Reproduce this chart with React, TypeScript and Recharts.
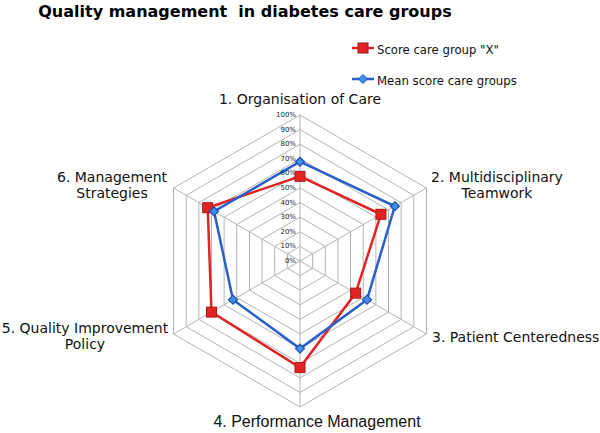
import React from "react";
import { RadarChart, Radar, PolarGrid, PolarAngleAxis, PolarRadiusAxis, Legend } from "recharts";

const categories = [
  "1. Organisation of Care",
  "2. Multidisciplinary Teamwork",
  "3. Patient Centeredness",
  "4. Performance Management",
  "5. Quality Improvement Policy",
  "6. Management Strategies",
];
const scoreX = [58, 64, 44, 73, 70, 73];
const meanScore = [68, 75, 53, 60, 53, 68];
const radiusTicks = [0, 10, 20, 30, 40, 50, 60, 70, 80, 90, 100];
const seriesNames = ['Score care group "X"', "Mean score care groups"];

const data = categories.map((c, i) => ({ category: c, x: scoreX[i], mean: meanScore[i] }));

const CX = 300;
const CY = 261;
const R = 146;
const RED = "#e02424";
const BLUE = "#2a5fc8";
const LABEL_FONT = "'DejaVu Sans', Verdana, sans-serif";
const LEGEND_FONT = "'DejaVu Sans Condensed', 'DejaVu Sans', sans-serif";

const labelLayout = [
  { lines: ["1. Organisation of Care"], x: 300, y: 104, anchor: "middle" },
  { lines: ["2. Multidisciplinary", "Teamwork"], x: 497, y: 182, anchor: "middle" },
  { lines: ["3. Patient Centeredness"], x: 432, y: 342, anchor: "start" },
  { lines: ["4. Performance Management"], x: 317, y: 427, anchor: "middle", arial: true },
  { lines: ["5. Quality Improvement", "Policy"], x: 85, y: 333, anchor: "middle" },
  { lines: ["6. Management", "Strategies"], x: 112, y: 182, anchor: "middle" },
];

const AngleTick = (props: any) => {
  const idx = props.index ?? categories.indexOf(props.payload?.value);
  const l = labelLayout[idx];
  if (!l) return null;
  return (
    <text
      x={l.x}
      y={l.y}
      textAnchor={l.anchor}
      fontFamily={l.arial ? "'Liberation Sans', Arial, sans-serif" : LABEL_FONT}
      fontSize={l.arial ? 16 : 14}
      fill="#111"
    >
      {l.lines.map((ln, i) => (
        <tspan key={i} x={l.x} dy={i === 0 ? 0 : 15.5}>
          {ln}
        </tspan>
      ))}
    </text>
  );
};

const RadiusTick = (props: any) => {
  const { x, y, payload } = props;
  return (
    <text
      x={x - 4}
      y={y}
      textAnchor="end"
      dominantBaseline="central"
      fontFamily={LABEL_FONT}
      fontSize={7}
      fill="#222"
    >
      {`${payload.value}%`}
    </text>
  );
};

const SquareDot = (props: any) => {
  const { cx, cy, index } = props;
  return <rect key={`sq-${index}`} x={cx - 5} y={cy - 5} width={10} height={10} fill={RED} stroke="#b01515" strokeWidth={1} />;
};

const DiamondDot = (props: any) => {
  const { cx, cy, index } = props;
  const s = 4.5;
  return (
    <polygon
      key={`di-${index}`}
      points={`${cx},${cy - s} ${cx + s},${cy} ${cx},${cy + s} ${cx - s},${cy}`}
      fill="#3f8fe6"
      stroke="#1e4fb5"
      strokeWidth={1.2}
    />
  );
};

const LegendContent = () => (
  <svg width={600} height={100} style={{ display: "block" }}>
    <g>
      <line x1={352} y1={48} x2={374} y2={48} stroke={RED} strokeWidth={2.5} />
      <rect x={358} y={43} width={10} height={10} fill={RED} stroke="#b01515" />
      <text x={377} y={53.5} fontSize={13} style={{ fontFamily: LEGEND_FONT }} fill="#111">
        {seriesNames[0]}
      </text>
    </g>
    <g>
      <line x1={352} y1={79} x2={374} y2={79} stroke={BLUE} strokeWidth={2.5} />
      <polygon points="363,74.5 367.5,79 363,83.5 358.5,79" fill="#3f8fe6" stroke="#1e4fb5" />
      <text x={377} y={84.5} fontSize={13} style={{ fontFamily: LEGEND_FONT }} fill="#111">
        {seriesNames[1]}
      </text>
    </g>
  </svg>
);

export default function App() {
  return (
    <div style={{ position: "absolute", left: 0, top: 0, width: 600, height: 433, background: "#fff" }}>
      <div
        style={{
          position: "absolute",
          left: 0,
          top: 0,
          width: 490,
          textAlign: "center",
          fontFamily: "'DejaVu Sans', Verdana, sans-serif",
          fontWeight: "bold",
          fontSize: 16,
          lineHeight: "20px",
          paddingTop: 2,
          color: "#000",
          whiteSpace: "pre",
        }}
      >
        {"Quality management  in diabetes care groups"}
      </div>
      <RadarChart
        width={600}
        height={433}
        data={data}
        cx={CX}
        cy={CY}
        outerRadius={R}
        startAngle={90}
        endAngle={-270}
        margin={{ top: 0, right: 0, bottom: 0, left: 0 }}
      >
        <PolarGrid gridType="polygon" stroke="#b4b4b4" strokeWidth={1} />
        <PolarAngleAxis dataKey="category" tick={<AngleTick />} axisLine={false} tickLine={false} />
        <PolarRadiusAxis
          angle={90}
          domain={[0, 100]}
          ticks={radiusTicks}
          tickCount={11}
          tick={<RadiusTick />}
          axisLine={false}
          tickLine={false}
        />
        <Radar
          name={seriesNames[0]}
          dataKey="x"
          stroke={RED}
          strokeWidth={2.5}
          fill="none"
          fillOpacity={0}
          dot={<SquareDot />}
          isAnimationActive={false}
        />
        <Radar
          name={seriesNames[1]}
          dataKey="mean"
          stroke={BLUE}
          strokeWidth={2.5}
          fill="none"
          fillOpacity={0}
          dot={<DiamondDot />}
          isAnimationActive={false}
        />
        <Legend
          content={<LegendContent />}
          wrapperStyle={{ position: "absolute", left: 0, top: 0, width: 600, height: 100 }}
        />
      </RadarChart>
    </div>
  );
}
